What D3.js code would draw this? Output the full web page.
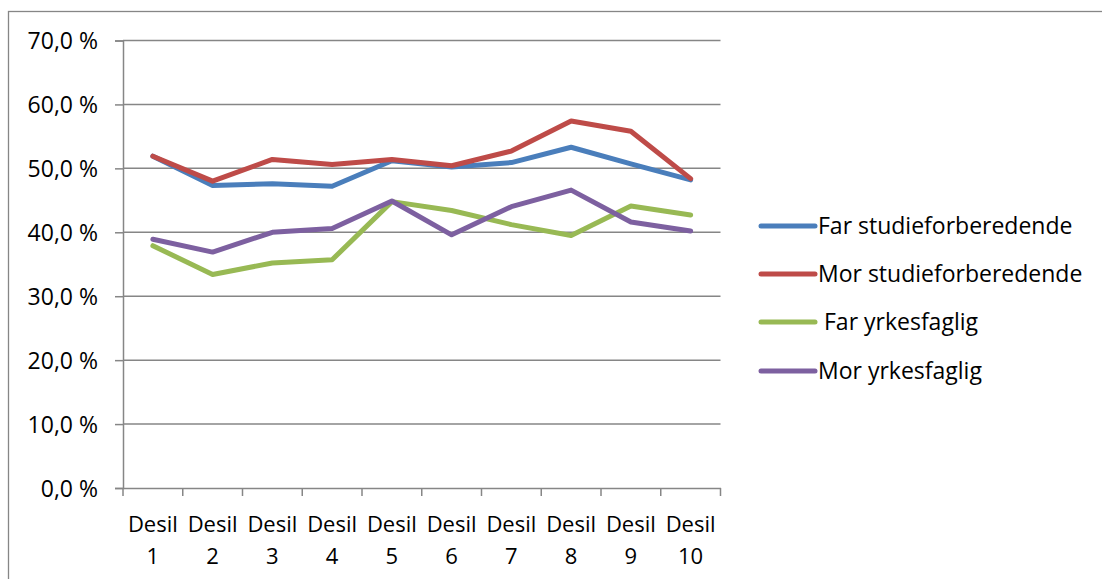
<!DOCTYPE html>
<html><head><meta charset="utf-8">
<script src="https://cdn.jsdelivr.net/npm/d3@7"></script>
<style>body{margin:0;background:#fff}svg{display:block}text{font-family:"Open Sans",sans-serif;fill:#000}</style>
</head><body><svg id="c" width="1102" height="579"></svg>
<script>
const categories = ["Desil 1","Desil 2","Desil 3","Desil 4","Desil 5","Desil 6","Desil 7","Desil 8","Desil 9","Desil 10"];
const farStudie = [51.9,47.3,47.6,47.2,51.2,50.2,50.9,53.3,50.7,48.2];
const morStudie = [51.9,48.0,51.4,50.6,51.4,50.4,52.7,57.4,55.8,48.4];
const farYrke   = [37.9,33.4,35.2,35.7,44.8,43.4,41.2,39.5,44.1,42.7];
const morYrke   = [38.9,36.9,40.0,40.6,44.9,39.6,44.0,46.6,41.6,40.2];
const yTicks = [0,10,20,30,40,50,60,70];
const seriesNames = ["Far studieforberedende","Mor studieforberedende"," Far yrkesfaglig","Mor yrkesfaglig"];
const colors = ["#4A7EBB","#BE4B48","#98B954","#7D60A0"];
const series = [farStudie, morStudie, farYrke, morYrke];

const svg = d3.select("#c");
svg.append("rect").attr("x",8.5).attr("y",11.5).attr("width",1110).attr("height",600)
  .attr("fill","none").attr("stroke","#868686").attr("stroke-width",1.3);

const x = d3.scaleBand().domain(categories).range([123,720.5]).padding(0);
const y = d3.scaleLinear().domain([0,70]).range([488,40.5]);

svg.append("g").selectAll("line").data(yTicks.slice(1)).join("line")
  .attr("x1",123).attr("x2",720.5).attr("y1",d=>y(d)).attr("y2",d=>y(d))
  .attr("stroke","#868686").attr("stroke-width",1.5);

const ya = svg.append("g").attr("transform","translate(123,0)")
  .call(d3.axisLeft(y).tickValues(yTicks).tickSize(8).tickPadding(18)
    .tickFormat(d=>d3.format(".1f")(d).replace(".",",")+" %"));
ya.select(".domain").attr("stroke","#868686").attr("stroke-width",1.5);
ya.selectAll(".tick line").attr("stroke","#868686").attr("stroke-width",1.5);
ya.selectAll(".tick text").style("font-size","23px").attr("dy","0.36em").attr("x",-25);

const xa = svg.append("g").attr("transform","translate(0,488)")
  .call(d3.axisBottom(x).tickSize(0).tickFormat(""));
xa.select(".domain").attr("stroke","#868686").attr("stroke-width",1.5);
xa.selectAll(".tick").remove();
const bounds = categories.map(c=>x(c)).concat([x(categories[categories.length-1])+x.bandwidth()]);
xa.selectAll("line.tk").data(bounds).join("line").attr("class","tk")
  .attr("x1",d=>d).attr("x2",d=>d).attr("y1",0).attr("y2",8)
  .attr("stroke","#868686").attr("stroke-width",1.5);
const lbl = svg.append("g").selectAll("text").data(categories).join("text")
  .attr("text-anchor","middle").style("font-size","22px");
lbl.append("tspan").attr("x",d=>x(d)+x.bandwidth()/2).attr("y",532).text(d=>d.split(" ")[0]);
lbl.append("tspan").attr("x",d=>x(d)+x.bandwidth()/2).attr("y",564).text(d=>d.split(" ")[1]);

const line = d3.line().x((d,i)=>x(categories[i])+x.bandwidth()/2).y(d=>y(d));
svg.append("g").selectAll("path").data(series).join("path")
  .attr("d",line).attr("fill","none").attr("stroke",(d,i)=>colors[i])
  .attr("stroke-width",5).attr("stroke-linejoin","round").attr("stroke-linecap","round");

const legY = [226,274,322,371];
const lg = svg.append("g").selectAll("g").data(seriesNames).join("g")
  .attr("transform",(d,i)=>`translate(0,${legY[i]})`);
lg.append("line").attr("x1",761).attr("x2",815).attr("y1",0).attr("y2",0)
  .attr("stroke",(d,i)=>colors[i]).attr("stroke-width",5).attr("stroke-linecap","round");
lg.append("text").attr("x",818).attr("y",0).attr("dy","0.36em").style("font-size","23px")
  .attr("xml:space","preserve").style("white-space","pre").text(d=>d);
</script></body></html>
